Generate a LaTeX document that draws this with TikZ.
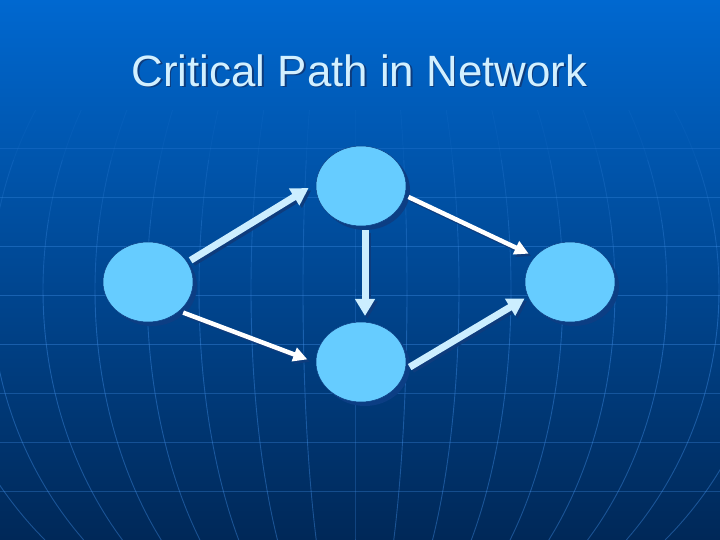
\documentclass[tikz,border=0pt]{standalone}
\usepackage{fontspec}
\setmainfont{Liberation Sans}
\usetikzlibrary{shapes.geometric,arrows.meta,shadows}
\definecolor{nodefill}{RGB}{102,204,255}
\definecolor{nodeshadow}{RGB}{12,62,132}
\definecolor{arrowshadow}{RGB}{14,60,125}
\definecolor{thickarrow}{RGB}{204,238,255}
\definecolor{titlecol}{RGB}{210,240,255}
\definecolor{gridcol}{RGB}{70,150,240}
\definecolor{bgtop}{RGB}{0,104,208}
\definecolor{bgmid}{RGB}{0,72,148}
\definecolor{bgbot}{RGB}{0,40,88}
\begin{document}
\begin{tikzpicture}[x=1bp,y=-1bp,
  event/.style={ellipse, minimum width=90bp, minimum height=80bp, inner sep=0pt,
    outer sep=4bp, fill=nodefill, draw=nodeshadow, line width=0.5bp,
    drop shadow={shadow xshift=4bp, shadow yshift=-4bp, fill=nodeshadow, opacity=1}},
  thickarr/.style={draw=thickarrow, line width=7bp, -{Triangle[length=17bp,width=19bp]}},
  thinarr/.style={draw=white, line width=4.5bp, -{Triangle[length=14bp,width=14bp]}},
  shadowthick/.style={draw=arrowshadow, line width=7bp, -{Triangle[length=17bp,width=19bp]},
    transform canvas={shift={(2.5bp,-2.5bp)}}},
  shadowthin/.style={draw=arrowshadow, line width=4.5bp, -{Triangle[length=14bp,width=14bp]},
    transform canvas={shift={(2.5bp,-2.5bp)}}},
  gridline/.style={draw=gridcol, line width=0.9bp}]
\useasboundingbox (0,0) rectangle (720,540);
% background
\shade[top color=bgtop, bottom color=bgbot, middle color=bgmid] (0,0) rectangle (720,540);
\begin{scope}
  \clip (0,0) rectangle (720,540);
  \foreach \yy/\op in {148/0.2,197/0.28,246/0.34,295/0.36,344/0.36,393/0.3,442/0.3,491/0.3}
    \draw[gridline, opacity=\op] (0,\yy) -- (720,\yy);
  \foreach \k in {-8,...,8}
    \foreach \ya/\yb/\op in {110/160/0.08,160/220/0.18,220/290/0.28,290/540/0.38}
      \draw[gridline, opacity=\op] plot[domain=\ya:\yb, samples=25, smooth, variable=\t]
        ({355+\k*52*sqrt(1-((\t-290)/375)^2)}, \t);
\end{scope}
% title
\node[anchor=base, text=arrowshadow, font=\fontsize{44}{50}\selectfont] (titleshadow) at (361,88) {Critical Path in Network};
\node[anchor=base, text=titlecol, font=\fontsize{44}{50}\selectfont] (title) at (359.5,86.5) {Critical Path in Network};
% nodes
\node[event] (L) at (148,282) {};
\node[event] (T) at (361,186) {};
\node[event] (B) at (361,362) {};
\node[event] (R) at (570,282) {};
% arrow shadows
\draw[shadowthick, shorten >=4bp] (L.27) -- (T.180);
\draw[shadowthick, shorten >=2bp] ([xshift=4bp]T.south) -- ([xshift=4bp]B.north);
\draw[shadowthick] (B.-6) -- (R.200);
\draw[shadowthin, shorten >=3bp] (T.-13) -- (R.145);
\draw[shadowthin, shorten >=5bp] (L.-41) -- (B.179);
% arrows
\draw[thickarr, shorten >=4bp] (L.27) -- (T.180);
\draw[thickarr, shorten >=2bp] ([xshift=4bp]T.south) -- ([xshift=4bp]B.north);
\draw[thickarr] (B.-6) -- (R.200);
\draw[thinarr, shorten >=3bp] (T.-13) -- (R.145);
\draw[thinarr, shorten >=5bp] (L.-41) -- (B.179);
\end{tikzpicture}
\end{document}
